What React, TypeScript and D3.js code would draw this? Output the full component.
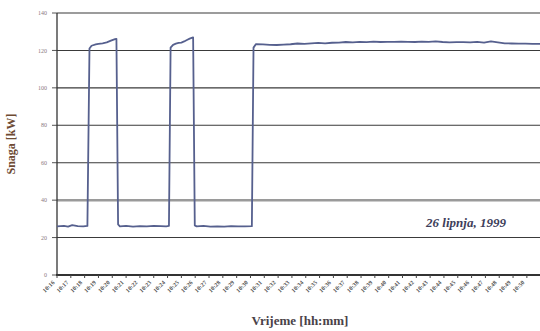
import React from "react";
import * as d3 from "d3";

// Power measurement on 26 June 1999, minutes after 10:16
const minutes: number[] = [
  0, 0.5, 0.8, 1.1, 1.5, 1.9, 2.2, 2.35, 2.5, 2.8, 3.0, 3.3, 3.6, 3.9, 4.2, 4.3, 4.42, 4.55,
  5.0, 5.5, 6.0, 6.5, 7.0, 7.5, 7.9, 8.1, 8.22, 8.4, 8.6, 8.8, 9.0, 9.2, 9.4, 9.6, 9.85, 9.97, 10.1,
  10.6, 11.1, 11.6, 12.1, 12.6, 13.1, 13.6, 14.1, 14.22, 14.4, 14.9, 15.4, 15.9, 16.4, 16.9,
  17.4, 17.9, 18.4, 18.9, 19.4, 19.9, 20.4, 20.9, 21.4, 21.9, 22.4, 22.9, 23.4, 23.9, 24.4,
  24.9, 25.4, 25.9, 26.4, 26.9, 27.4, 27.9, 28.4, 28.9, 29.4, 29.9, 30.4, 30.9, 31.4, 31.9,
  32.4, 32.9, 33.4, 33.9, 34.4, 34.95,
];
const powerKW: number[] = [
  26, 26.2, 25.8, 26.6, 26.1, 26, 26.2, 121, 122.5, 123.2, 123.5, 123.8, 124.3, 125.2, 126, 126.2, 27, 26,
  26.2, 25.9, 26.1, 26, 26.3, 26.1, 26, 26.2, 121.5, 123, 123.6, 124, 124.2, 124.8, 125.6, 126.3, 127, 26.5, 26,
  26.2, 25.9, 26, 25.8, 26.1, 26, 26, 26.1, 121.5, 123.4, 123.2, 123, 122.9, 123.1, 123.3,
  123.7, 123.5, 123.8, 124, 123.8, 124.1, 124.2, 124.5, 124.3, 124.6, 124.4, 124.7, 124.5, 124.6, 124.6,
  124.7, 124.6, 124.5, 124.7, 124.6, 124.8, 124.5, 124.3, 124.4, 124.4, 124.3, 124.6, 124.2, 124.8, 124.3,
  123.8, 123.7, 123.6, 123.6, 123.5, 123.5,
];
const yTicks: number[] = [0, 20, 40, 60, 80, 100, 120, 140];
const xTickLabels: string[] = d3.range(35).map((i) => {
  const t = 16 + i;
  return `10:${String(t).padStart(2, "0")}`;
});

const W = 540;
const H = 331;
const left = 57;
const top = 13;
const bottom = 275;
const serif = "'Liberation Serif', 'DejaVu Serif', 'Times New Roman', serif";

export default function App() {
  const x = d3.scaleLinear().domain([0, 34.95]).range([left, W]);
  const y = d3.scaleLinear().domain([0, 140]).range([bottom, top]);
  const pts: [number, number][] = minutes.map((m, i) => [m, powerKW[i]]);
  const line = d3
    .line<[number, number]>()
    .x((d) => x(d[0]))
    .y((d) => y(d[1]));

  return (
    <svg
      width={W}
      height={H}
      style={{ position: "absolute", left: 0, top: 0, background: "#fff", fontFamily: serif }}
    >
      {/* horizontal gridlines */}
      {yTicks.map((t) => (
        <line
          key={`g${t}`}
          x1={left}
          x2={W}
          y1={y(t)}
          y2={y(t)}
          stroke={t === 40 ? "#9a9a9a" : t === 0 ? "none" : "#3a3a3a"}
          strokeWidth={t === 40 ? 2.5 : 1.1}
        />
      ))}
      {/* y tick marks and labels */}
      {yTicks.map((t) => (
        <g key={`y${t}`}>
          <line x1={left - 5} x2={left} y1={y(t)} y2={y(t)} stroke="#555" strokeWidth={1} />
          <text
            x={left - 10}
            y={y(t)}
            dy="0.35em"
            textAnchor="end"
            style={{ fontFamily: serif, fontSize: 6 }}
            fill="#8a7a80"
          >
            {t}
          </text>
        </g>
      ))}
      {/* axes */}
      <line x1={left} x2={left} y1={top} y2={bottom} stroke="#333" strokeWidth={1.3} />
      <line x1={left - 1} x2={W} y1={bottom} y2={bottom} stroke="#333" strokeWidth={2.2} />
      {/* x ticks and rotated labels */}
      {xTickLabels.map((lab, i) => (
        <g key={`x${i}`}>
          <line x1={x(i)} x2={x(i)} y1={bottom} y2={bottom + 3} stroke="#444" strokeWidth={1} />
          <text
            transform={`translate(${x(i) - 2},${bottom + 8}) rotate(-45)`}
            textAnchor="end"
            style={{ fontFamily: serif, fontSize: 6, fontWeight: "bold" }}
            fill="#555"
          >
            {lab}
          </text>
        </g>
      ))}
      {/* power trace */}
      <path d={line(pts) ?? ""} fill="none" stroke="#56608e" strokeWidth={1.8} strokeLinejoin="round" />
      {/* annotation */}
      <text
        x={466}
        y={227}
        textAnchor="middle"
        style={{ fontFamily: serif, fontSize: 13, fontStyle: "italic", fontWeight: "bold" }}
        fill="#3e3e5a"
      >
        26 lipnja, 1999
      </text>
      {/* axis titles */}
      <text
        transform={`translate(15,${(top + bottom) / 2}) rotate(-90)`}
        textAnchor="middle"
        style={{ fontFamily: serif, fontSize: 12, fontWeight: "bold" }}
        fill="#6e4b33"
      >
        Snaga [kW]
      </text>
      <text
        x={300}
        y={325}
        textAnchor="middle"
        style={{ fontFamily: serif, fontSize: 13, fontWeight: "bold" }}
        fill="#4a4248"
      >
        Vrijeme [hh:mm]
      </text>
    </svg>
  );
}
